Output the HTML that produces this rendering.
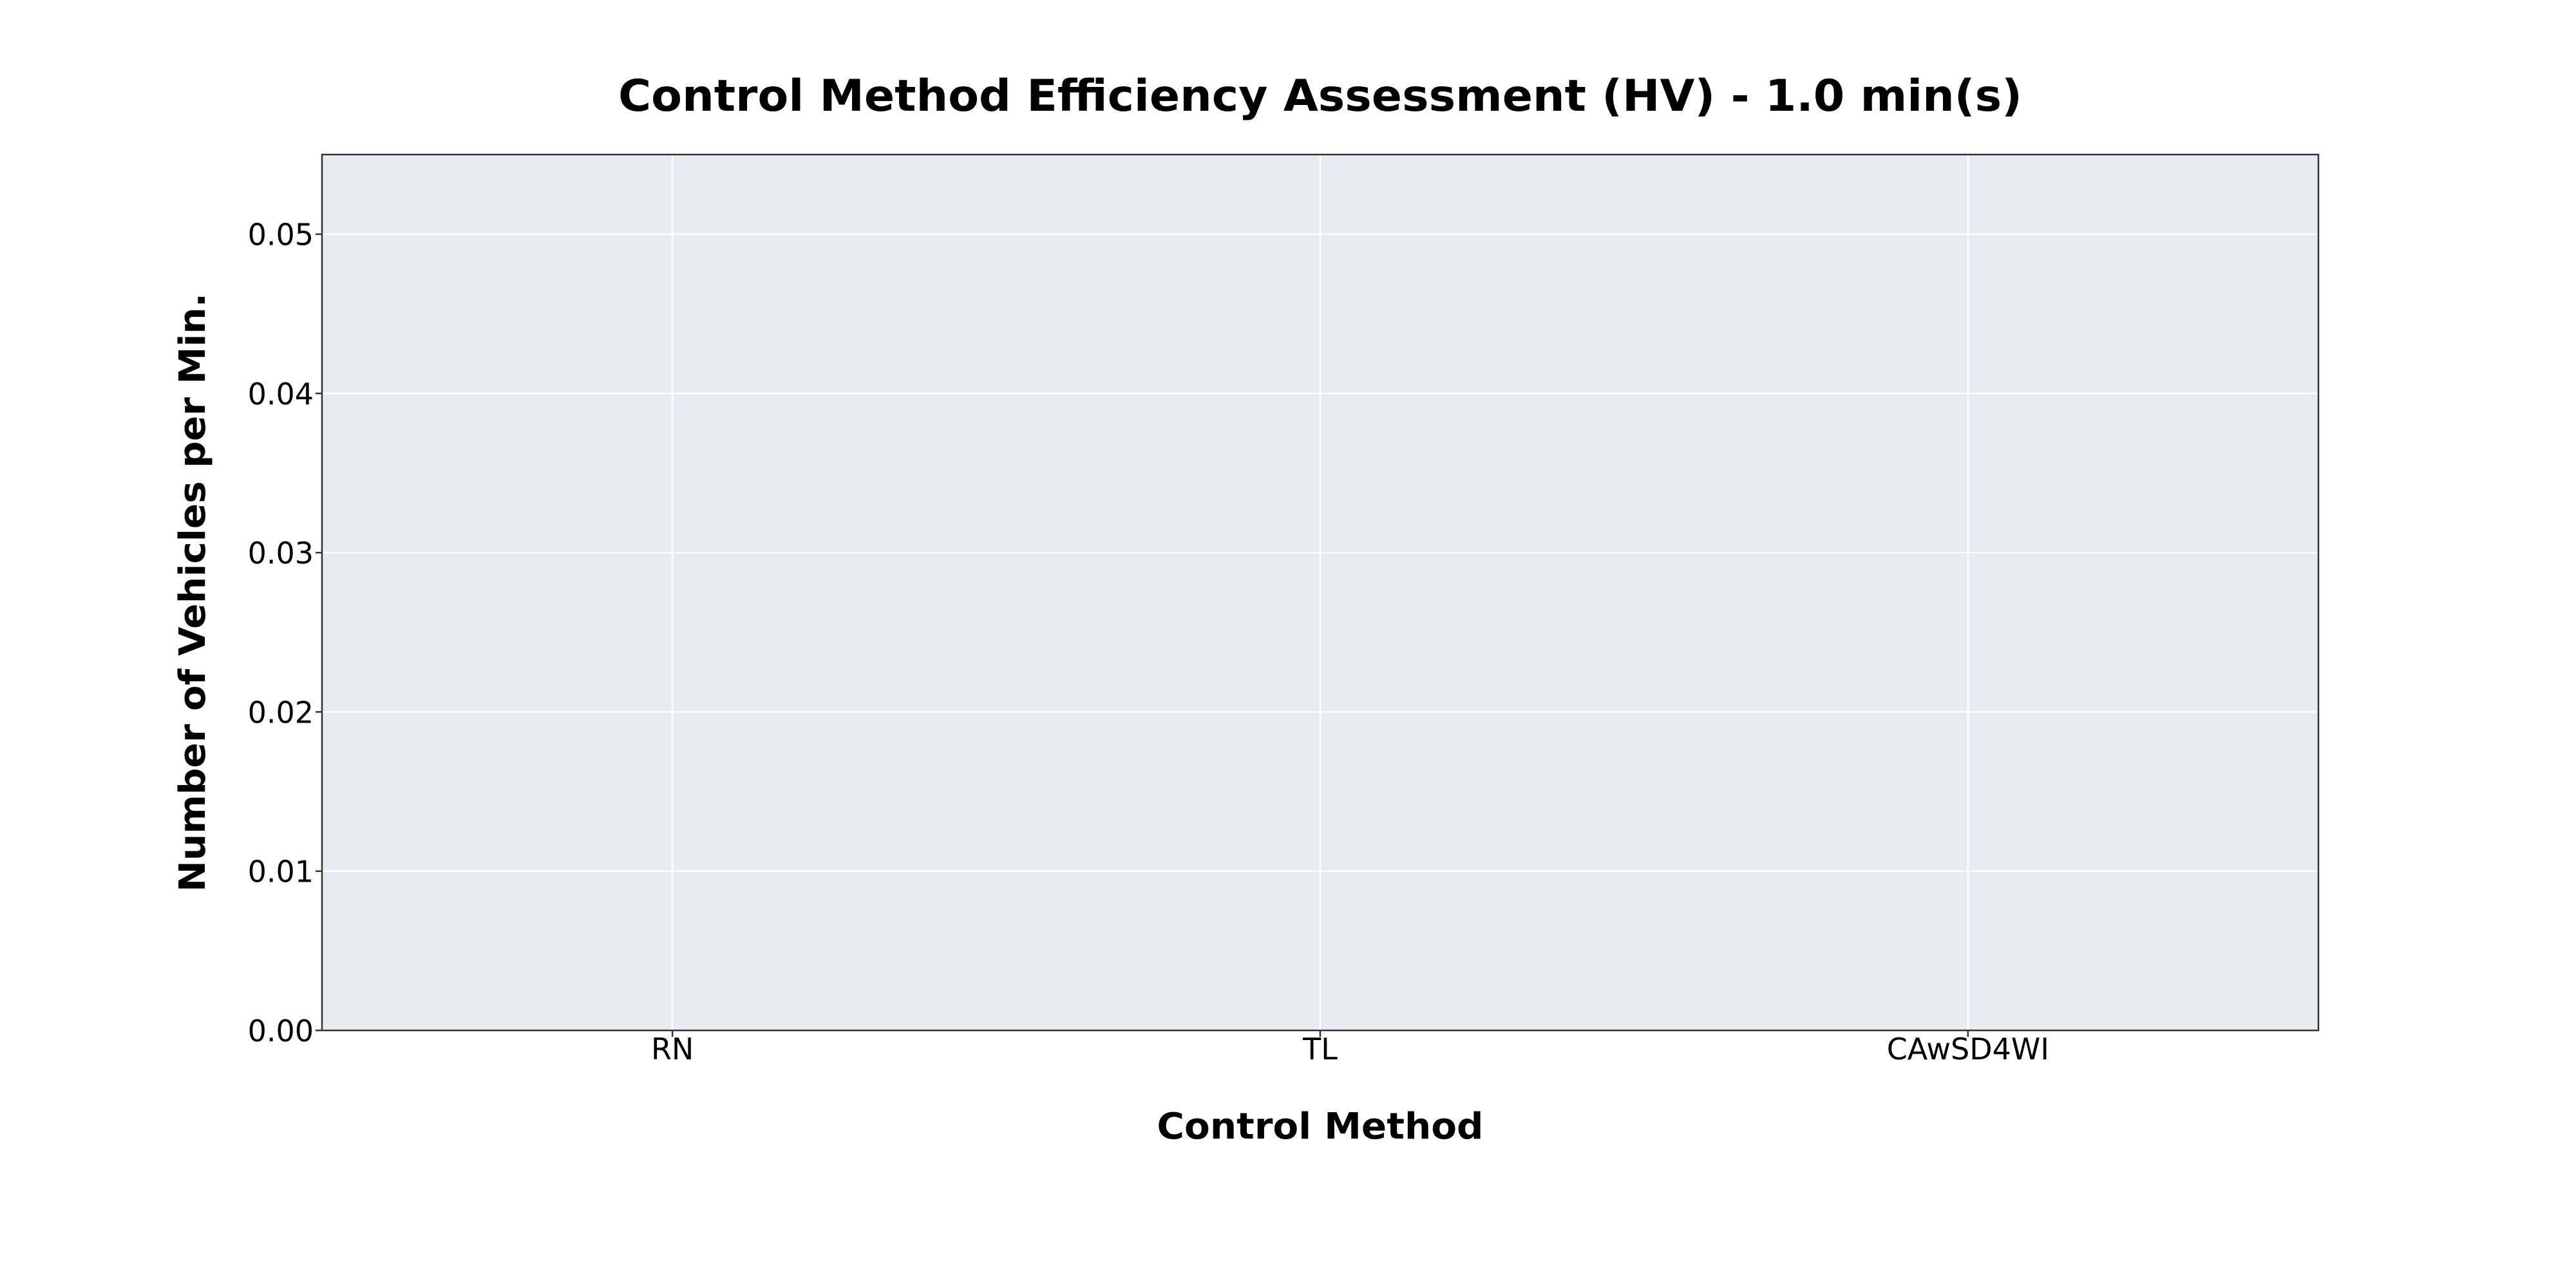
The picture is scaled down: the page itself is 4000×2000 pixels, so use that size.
<!DOCTYPE html>
<html><head><meta charset="utf-8"><style>html,body{margin:0;padding:0;background:#fff}svg{display:block}</style></head>
<body>
<svg id="chart" width="4000" height="2000" xmlns="http://www.w3.org/2000/svg" font-family="'DejaVu Sans','Liberation Sans',sans-serif">
<rect x="500" y="240" width="3100" height="1360" fill="#eaeaf2"/>
<g id="grid"></g>
<g id="bars"></g>
<rect x="500" y="240" width="3100" height="1360" fill="none" stroke="#333" stroke-width="2.5"/>
<g id="ticks"></g>
<text x="2050" y="172" text-anchor="middle" font-size="68" font-weight="bold" textLength="2180" lengthAdjust="spacingAndGlyphs">Control Method Efficiency Assessment (HV) - 1.0 min(s)</text>
<text x="2050" y="1768" text-anchor="middle" font-size="56" font-weight="bold" textLength="507" lengthAdjust="spacingAndGlyphs">Control Method</text>
<text transform="translate(318,920) rotate(-90)" text-anchor="middle" font-size="56" font-weight="bold" textLength="930" lengthAdjust="spacingAndGlyphs">Number of Vehicles per Min.</text>
</svg>
<script>
const categories = ["RN", "TL", "CAwSD4WI"];
const values = [0, 0, 0];
const yTicks = [0, 0.01, 0.02, 0.03, 0.04, 0.05];
const yTickLabels = ["0.00", "0.01", "0.02", "0.03", "0.04", "0.05"];

const NS = "http://www.w3.org/2000/svg";
const L = 500, R = 3600, T = 240, B = 1600;
const xMin = -0.541, xMax = 2.541, yMin = 0, yMax = 0.055;
function xs(i){ return L + (i - xMin) / (xMax - xMin) * (R - L); }
function ys(v){ return B - (v - yMin) / (yMax - yMin) * (B - T); }
function mk(tag, attrs, parent){
  const e = document.createElementNS(NS, tag);
  for (const k in attrs) e.setAttribute(k, attrs[k]);
  parent.appendChild(e); return e;
}
const grid = document.getElementById('grid'), ticks = document.getElementById('ticks'), bars = document.getElementById('bars');
yTicks.forEach((v, i) => {
  const y = ys(v);
  const g = mk('line', {x1: L, x2: R, y1: y, y2: y, stroke: '#fff', 'stroke-width': 2.5}, grid);
  
  
  const t = mk('line', {x1: L - 10, x2: L, y1: y, y2: y, stroke: '#333', 'stroke-width': 2.5}, ticks);
  
  
  const lb = mk('text', {x: L - 13, y: y + 17, 'text-anchor': 'end', 'font-size': 46}, ticks);
  lb.textContent = yTickLabels[i];
  
  
});
categories.forEach((c, i) => {
  const x = xs(i);
  const g = mk('line', {x1: x, x2: x, y1: T, y2: B, stroke: '#fff', 'stroke-width': 2.5}, grid);
  
  
  const t = mk('line', {x1: x, x2: x, y1: B, y2: B + 10, stroke: '#333', 'stroke-width': 2.5}, ticks);
  
  
  const lb = mk('text', {x: x, y: B + 45, 'text-anchor': 'middle', 'font-size': 46}, ticks);
  lb.textContent = c;
  
  
  const h = ys(0) - ys(values[i]);
  const bar = mk('rect', {x: x - 400, y: ys(values[i]), width: 800, height: Math.max(0, h), fill: '#4c72b0'}, bars);
  
  
});
</script>
</body></html>
